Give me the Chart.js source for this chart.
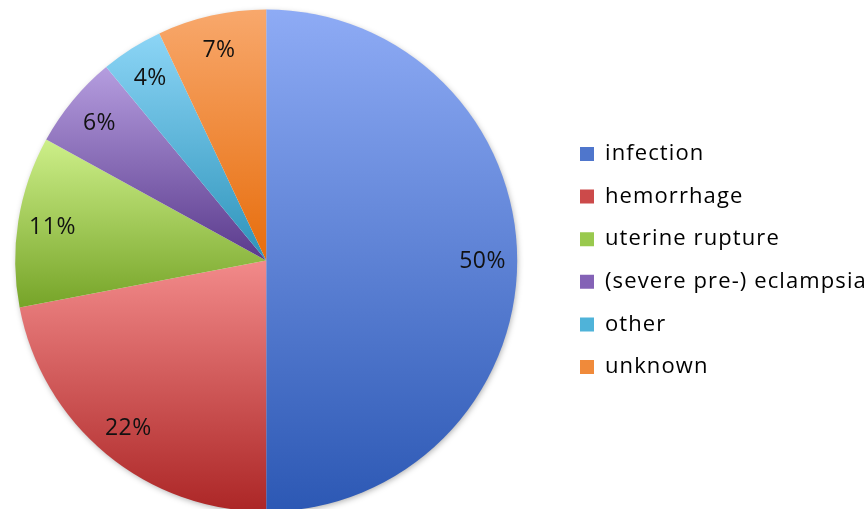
<!DOCTYPE html>
<html>
<head>
<meta charset="utf-8">
<script src="https://cdn.jsdelivr.net/npm/chart.js@4.4.1/dist/chart.umd.min.js"></script>
<style>
  html, body { margin: 0; padding: 0; background: #ffffff; overflow: hidden; }
  #wrap { width: 866px; height: 509px; position: relative; overflow: hidden; }
  #c { position: absolute; left: -27px; top: 0; }
</style>
</head>
<body>
<div id="wrap"><canvas id="c" width="893" height="509"></canvas></div>
<script>
// ---- data ----
const categories = ['infection', 'hemorrhage', 'uterine rupture', '(severe pre-) eclampsia', 'other', 'unknown'];
const shares = [50, 22, 11, 6, 4, 7];
const percentLabels = ['50%', '22%', '11%', '6%', '4%', '7%'];

// ---- colours ----
const topColors    = ['#8eabf5', '#f28a8a', '#cdef89', '#b59ddf', '#8cd5f6', '#f8a86c'];
const bottomColors = ['#2c58b4', '#ac2626', '#76a428', '#5a3a8c', '#2d93ba', '#e76d0c'];
const legendColors = ['#4f76cc', '#cc4a4a', '#99c94e', '#8462b6', '#4fb3d9', '#f08a3a'];

function sliceGradient(context) {
  const i = context.dataIndex;
  const chart = context.chart;
  const area = chart.chartArea;
  if (!area || i === undefined) return legendColors[i] || '#999';
  const meta = chart.getDatasetMeta(0);
  const r = (meta.controller && meta.controller.outerRadius) || 251;
  const cy = (area.top + area.bottom) / 2;
  const total = shares.reduce((a, b) => a + b, 0);
  let before = 0;
  for (let k = 0; k < i; k++) before += shares[k];
  const a0 = before / total * Math.PI * 2 - Math.PI / 2;
  const a1 = (before + shares[i]) / total * Math.PI * 2 - Math.PI / 2;
  let minY = cy, maxY = cy;
  for (let s = 0; s <= 90; s++) {
    const a = a0 + (a1 - a0) * s / 90;
    const y = cy + r * Math.sin(a);
    if (y < minY) minY = y;
    if (y > maxY) maxY = y;
  }
  const g = chart.ctx.createLinearGradient(0, minY, 0, maxY);
  g.addColorStop(0, topColors[i]);
  g.addColorStop(1, bottomColors[i]);
  return g;
}

const LEGEND_SPACING = '1.1px';
const spacingPlugin = {
  id: 'legendSpacing',
  beforeUpdate(chart) { chart.ctx.letterSpacing = LEGEND_SPACING; },
  beforeLayout(chart) { chart.ctx.letterSpacing = LEGEND_SPACING; },
  beforeDraw(chart) { chart.ctx.letterSpacing = LEGEND_SPACING; }
};

const shadowPlugin = {
  id: 'pieShadow',
  beforeDatasetsDraw(chart) {
    const meta = chart.getDatasetMeta(0);
    const arc = meta.data[0];
    if (!arc) return;
    const ctx = chart.ctx;
    ctx.save();
    ctx.shadowColor = 'rgba(0,0,0,0.35)';
    ctx.shadowBlur = 6;
    ctx.shadowOffsetX = 1;
    ctx.shadowOffsetY = 2;
    ctx.fillStyle = '#ffffff';
    ctx.beginPath();
    ctx.arc(arc.x, arc.y, arc.outerRadius - 1, 0, Math.PI * 2);
    ctx.fill();
    ctx.restore();
  }
};

const labelPlugin = {
  id: 'pctLabels',
  afterDatasetsDraw(chart) {
    const meta = chart.getDatasetMeta(0);
    const ctx = chart.ctx;
    ctx.save();
    ctx.letterSpacing = '0.5px';
    ctx.font = '23px "Open Sans"';
    ctx.fillStyle = '#111111';
    ctx.textAlign = 'center';
    ctx.textBaseline = 'middle';
    meta.data.forEach((arc, i) => {
      const mid = (arc.startAngle + arc.endAngle) / 2;
      const rr = arc.outerRadius * 0.862;
      ctx.fillText(percentLabels[i], arc.x + Math.cos(mid) * rr, arc.y + Math.sin(mid) * rr + 1);
    });
    ctx.restore();
  }
};

new Chart(document.getElementById('c'), {
  type: 'pie',
  data: {
    labels: categories,
    datasets: [{
      data: shares,
      backgroundColor: sliceGradient,
      borderWidth: 0,
      radius: 251,
      clip: false
    }]
  },
  options: {
    responsive: false,
    animation: false,
    devicePixelRatio: 1,
    layout: { padding: { left: 0, top: 12, right: 0, bottom: 0 } },
    plugins: {
      tooltip: { enabled: false },
      legend: {
        position: 'right',
        maxWidth: 306.6,
        labels: {
          boxWidth: 14,
          boxHeight: 14,
          padding: 20.6,
          color: '#111111',
          font: { family: '"Open Sans"', size: 22 },
          generateLabels(chart) {
            return categories.map((c, i) => ({
              text: c,
              fillStyle: legendColors[i],
              strokeStyle: 'rgba(0,0,0,0)',
              lineWidth: 0,
              hidden: false,
              index: i
            }));
          }
        }
      }
    }
  },
  plugins: [spacingPlugin, shadowPlugin, labelPlugin]
});
</script>
</body>
</html>
